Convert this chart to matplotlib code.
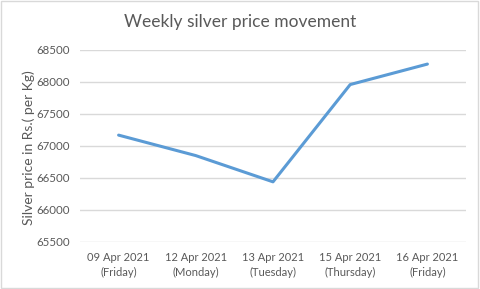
import matplotlib.pyplot as plt
from matplotlib.patches import Rectangle

dates = ["09 Apr 2021\n(Friday)", "12 Apr 2021\n(Monday)", "13 Apr 2021\n(Tuesday)",
         "15 Apr 2021\n(Thursday)", "16 Apr 2021\n(Friday)"]
prices = [67170, 66850, 66440, 67960, 68280]
yticks = [65500, 66000, 66500, 67000, 67500, 68000, 68500]

plt.rcParams["font.family"] = ["Lato", "DejaVu Sans"]
text_color = "#595959"
grid_color = "#D9D9D9"

fig = plt.figure(figsize=(4.81, 2.89), dpi=100)
ax = fig.add_axes([80 / 481, 1 - 242 / 289, 386 / 481, 192 / 289])

x = list(range(len(dates)))
ax.plot(x, prices, color="#5B9BD5", linewidth=2.2, solid_capstyle="round")

ax.set_xlim(-0.5, len(dates) - 0.5)
ax.set_ylim(65500, 68500)
ax.set_yticks(yticks)
ax.set_yticklabels([str(v) for v in yticks], fontsize=8.3, color=text_color)
ax.set_xticks(x)
ax.set_xticklabels(dates, fontsize=8, color=text_color, linespacing=1.5)
ax.tick_params(length=0, pad=7)
ax.grid(axis="y", color=grid_color, linewidth=1)
ax.set_axisbelow(True)
for s in ax.spines.values():
    s.set_visible(False)

# ylabel anchor is its right edge
ax.set_ylabel("Silver price in Rs.( per Kg)", fontsize=10, color=text_color)
ax.yaxis.set_label_coords((35 - 80) / 386, 0.49)
fig.text(240 / 481, 1 - 22 / 289, "Weekly silver price movement", fontsize=12.5,
         color=text_color, ha="center", va="center")

fig.patches.append(Rectangle((0.003, 0.005), 0.991, 0.99, transform=fig.transFigure,
                             fill=False, edgecolor=grid_color, linewidth=1))

fig.savefig("out.png", dpi=100)
